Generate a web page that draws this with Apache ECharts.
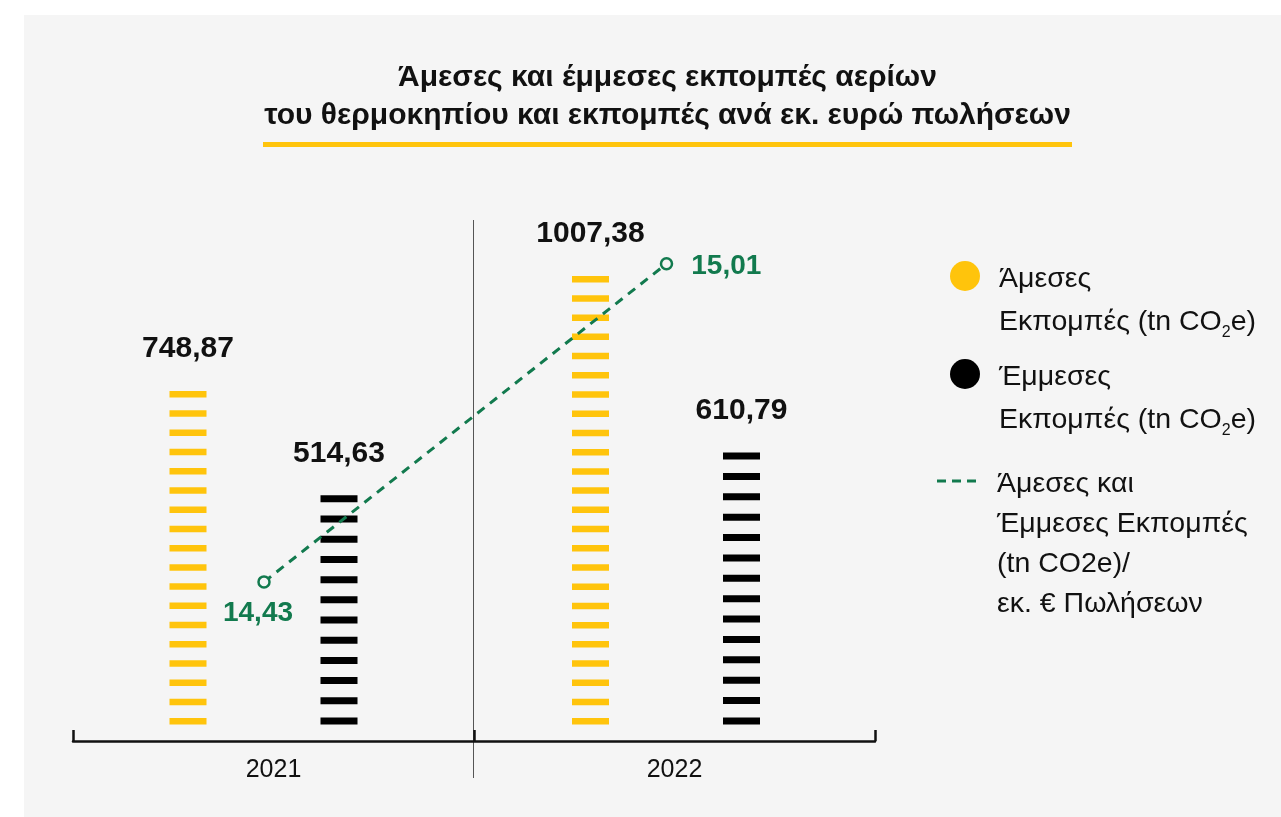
<!doctype html>
<html lang="el">

<head>
	<meta charset="UTF-8">
	<title>Άμεσες και έμμεσες εκπομπές αερίων του θερμοκηπίου</title>
	<script src="https://cdn.jsdelivr.net/npm/echarts@6.0.0/dist/echarts.min.js"></script>
	<style>
		html,
		body {
			margin: 0;
			padding: 0;
			background: #fff;
		}

		#main {
			width: 1281px;
			height: 817px;
		}
	</style>
</head>

<body>
	<div id="main"></div>
	<script type="text/javascript">
		// data
		var years = ['2021', '2022'];
		var directEm = [748.87, 1007.38];
		var indirectEm = [514.63, 610.79];
		var perSales = [14.43, 15.01];

		var YELLOW = '#ffc40c';
		var GREEN = '#127a4e';
		var FONT = '"Liberation Sans", Arial, sans-serif';

		var nameDirect = 'Άμεσες Εκπομπές (tn CO2e)';
		var nameIndirect = 'Έμμεσες Εκπομπές (tn CO2e)';
		var nameRatio = 'Άμεσες και Έμμεσες Εκπομπές (tn CO2e)/ εκ. € Πωλήσεων';

		var legendText = {};
		legendText[nameDirect] = 'Άμεσες\nΕκπομπές (tn CO{sub|2}e)';
		legendText[nameIndirect] = 'Έμμεσες\nΕκπομπές (tn CO{sub|2}e)';
		legendText[nameRatio] = 'Άμεσες και\nΈμμεσες Εκπομπές\n(tn CO2e)/\nεκ. € Πωλήσεων';

		function comma(v) {
			return String(v.toFixed(2)).replace('.', ',');
		}

		// legend block, icon lined up with the first text line
		function legendBlock(name, iconY, left, lines, lh, extra) {
			var padTop = (lines - 1) * lh + 6;
			var l = {
				data: [name],
				orient: 'vertical',
				top: iconY - (lines * lh + padTop) / 2,
				left: left,
				padding: 0,
				itemWidth: 30,
				itemHeight: 30,
				icon: 'circle',
				selectedMode: false,
				formatter: function (n) { return legendText[n]; },
				textStyle: {
					fontFamily: FONT,
					fontSize: 28.5,
					color: '#111',
					lineHeight: lh,
					padding: [padTop, 0, 0, 14],
					rich: {
						sub: { fontSize: 16, fontFamily: FONT, color: '#111', padding: [22, 0, 0, 0] }
					}
				}
			};
			return Object.assign(l, extra || {});
		}

		// striped bar: dashes spread evenly from the value down to zero
		function dashBar(color, dashH, pitch, dx) {
			return function (params, api) {
				var idx = api.value(0);
				var v = api.value(1);
				var base = api.coord([idx, 0]);
				var top = api.coord([idx, v]);
				var cx = base[0] + dx;
				var len = base[1] - top[1];
				var n = Math.round((len - dashH) / pitch) + 1;
				var step = (len - dashH) / (n - 1);
				var children = [];
				for (var i = 0; i < n; i++) {
					children.push({
						type: 'rect',
						shape: { x: cx - 18.5, y: top[1] + i * step, width: 37, height: dashH },
						style: { fill: color }
					});
				}
				children.push({
					type: 'text',
					style: {
						text: comma(v),
						x: cx,
						y: top[1] - 27,
						align: 'center',
						verticalAlign: 'bottom',
						fill: '#111',
						fontFamily: FONT,
						fontSize: 30,
						fontWeight: 'bold'
					}
				});
				return { type: 'group', children: children };
			};
		}

		function pairs(arr) {
			return arr.map(function (v, i) { return [i, v]; });
		}

		var myChart = echarts.init(document.getElementById('main'));

		var option = {
			backgroundColor: '#fff',
			animation: false,
			title: {
				text: 'Άμεσες και έμμεσες εκπομπές αερίων\nτου θερμοκηπίου και εκπομπές ανά εκ. ευρώ πωλήσεων',
				left: 667.5,
				top: 58.5,
				padding: 0,
				textAlign: 'center',
				textStyle: {
					fontFamily: FONT,
					fontSize: 30,
					fontWeight: 'bold',
					color: '#111',
					lineHeight: 38
				}
			},
			legend: [
				legendBlock(nameDirect, 276, 950, 2, 43),
				legendBlock(nameIndirect, 374, 950, 2, 43),
				legendBlock(nameRatio, 481, 937, 4, 40, {
					data: [{
						name: nameRatio,
						icon: 'path://M0,0h9v3h-9zM15,0h9v3h-9zM30,0h9v3h-9z',
						itemStyle: { color: GREEN, borderWidth: 0 }
					}],
					itemWidth: 43,
					itemHeight: 3
				})
			],
			graphic: [
				{ type: 'rect', z: -10, silent: true, shape: { x: 24, y: 15, width: 1257, height: 802 }, style: { fill: '#f5f5f5' } },
				{ type: 'rect', silent: true, shape: { x: 263, y: 142, width: 809, height: 5 }, style: { fill: YELLOW } },
				{ type: 'line', silent: true, shape: { x1: 473.5, y1: 220, x2: 473.5, y2: 778 }, style: { stroke: '#555', lineWidth: 1 } }
			],
			grid: [
				{ left: 62.75, right: 413.25, top: 234.7, bottom: 92.5 },
				{ left: 73, right: 406, top: 200, bottom: 76 }
			],
			xAxis: [
				{ gridIndex: 0, type: 'category', data: years, show: false },
				{
					gridIndex: 1,
					type: 'category',
					data: years,
					axisLine: { lineStyle: { color: '#111', width: 2.5 } },
					axisTick: { show: true, inside: true, length: 11, lineStyle: { color: '#111', width: 2.5 } },
					axisLabel: { fontFamily: FONT, fontSize: 25, color: '#111', margin: 17 }
				}
			],
			yAxis: [
				{ gridIndex: 0, type: 'value', min: 0, max: 1100, show: false, splitLine: { show: false } },
				{ gridIndex: 0, type: 'value', min: 14.17, max: 15.063, show: false, splitLine: { show: false } },
				{ gridIndex: 1, type: 'value', show: false, splitLine: { show: false } }
			],
			series: [
				{
					name: nameDirect,
					type: 'custom',
					xAxisIndex: 0,
					yAxisIndex: 0,
					data: pairs(directEm),
					encode: { x: 0, y: 1 },
					itemStyle: { color: YELLOW },
					renderItem: dashBar(YELLOW, 6.5, 19.3, -76)
				},
				{
					name: nameIndirect,
					type: 'custom',
					xAxisIndex: 0,
					yAxisIndex: 0,
					data: pairs(indirectEm),
					encode: { x: 0, y: 1 },
					itemStyle: { color: '#000' },
					renderItem: dashBar('#000', 7, 20.2, 75)
				},
				{
					name: nameRatio,
					type: 'line',
					xAxisIndex: 0,
					yAxisIndex: 1,
					data: [
						{ value: perSales[0], label: { position: 'bottom', distance: 11, offset: [-6, 0] } },
						{ value: perSales[1], label: { position: 'right', distance: 18, offset: [0, 3] } }
					],
					symbol: 'circle',
					symbolSize: 11,
					itemStyle: { color: '#f5f5f5', borderColor: GREEN, borderWidth: 2.5 },
					lineStyle: { color: GREEN, width: 3, type: [9, 7] },
					label: {
						show: true,
						fontFamily: FONT,
						fontSize: 28,
						fontWeight: 'bold',
						color: GREEN,
						formatter: function (p) { return comma(p.value); }
					},
					z: 5
				}
			]
		};
		myChart.setOption(option);
	</script>
</body>

</html>
